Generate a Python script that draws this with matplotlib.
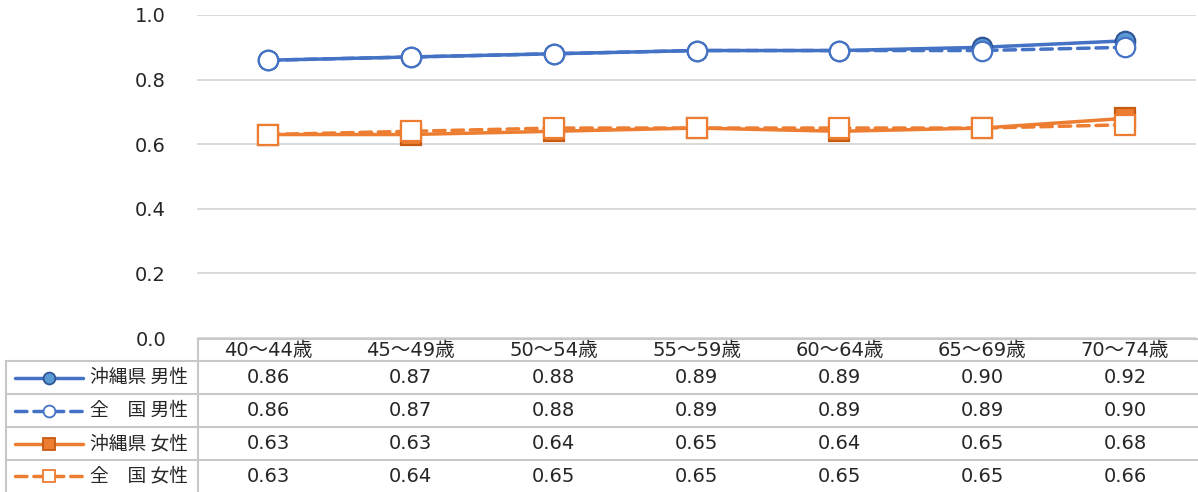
import matplotlib
matplotlib.use("Agg")
import matplotlib.pyplot as plt
from matplotlib.lines import Line2D

plt.rcParams['font.family'] = ['DejaVu Sans', 'Noto Sans CJK JP']

categories = ["40～44歳", "45～49歳", "50～54歳", "55～59歳", "60～64歳", "65～69歳", "70～74歳"]
okinawa_male = [0.86, 0.87, 0.88, 0.89, 0.89, 0.90, 0.92]
national_male = [0.86, 0.87, 0.88, 0.89, 0.89, 0.89, 0.90]
okinawa_female = [0.63, 0.63, 0.64, 0.65, 0.64, 0.65, 0.68]
national_female = [0.63, 0.64, 0.65, 0.65, 0.65, 0.65, 0.66]
series_labels = ["沖縄県 男性", "全　国 男性", "沖縄県 女性", "全　国 女性"]
yticks = [0.0, 0.2, 0.4, 0.6, 0.8, 1.0]

BLUE = "#4472C4"
ORANGE = "#ED7D31"
styles = [
    dict(color=BLUE, ls="-", marker="o", mfc="#5B9BD5", mec="#2F5597"),
    dict(color=BLUE, ls=(0, (3.3, 2)), marker="o", mfc="white", mec=BLUE),
    dict(color=ORANGE, ls="-", marker="s", mfc=ORANGE, mec="#C55A11"),
    dict(color=ORANGE, ls=(0, (3.3, 2)), marker="s", mfc="white", mec=ORANGE),
]
series = [okinawa_male, national_male, okinawa_female, national_female]

W, H = 1198, 492
fig = plt.figure(figsize=(W / 100, H / 100), dpi=100)
TXT = "#262626"

left_px, right_px, top_px, bot_px = 196.6, 1196.4, 15, 338
ax = fig.add_axes([left_px / W, 1 - bot_px / H, (right_px - left_px) / W, (bot_px - top_px) / H])
x = list(range(len(categories)))
for vals, st in zip(series, styles):
    ax.plot(x, vals, color=st["color"], ls=st["ls"], lw=2.5, marker=st["marker"],
            ms=14, mfc=st["mfc"], mec=st["mec"], mew=1.6, solid_capstyle="round",
            dash_capstyle="round")
ax.set_xlim(-0.5, len(categories) - 0.5)
ax.set_ylim(0, 1.0)
ax.set_yticks(yticks)
ax.set_yticklabels([f"{v:.1f}" for v in yticks], fontsize=14, color=TXT)
ax.tick_params(axis="y", length=0, pad=22)
ax.set_xticks([])
ax.grid(axis="y", color="#D9D9D9", lw=1.4)
ax.set_axisbelow(True)
for s in ax.spines.values():
    s.set_visible(False)
ax.patch.set_alpha(0)

# Table area
tax = fig.add_axes([0, 0, 1, 1])
tax.set_xlim(0, W)
tax.set_ylim(H, 0)
tax.axis("off")
tax.patch.set_alpha(0)
gc = "#C8C8C8"
row_y = [339, 361, 394, 427, 460, 492]
tax.plot([198, W], [339, 339], color=gc, lw=1.5)
for y in row_y[1:-1]:
    tax.plot([6, W], [y, y], color=gc, lw=1.5)
tax.plot([198, 198], [339, 492], color=gc, lw=1.5)
tax.plot([6, 6], [361, 492], color=gc, lw=1.5)

col_w = (right_px - left_px) / len(categories)
for i, c in enumerate(categories):
    cx = left_px + col_w * (i + 0.5)
    tax.text(cx, 351, c, ha="center", va="center", fontsize=14, color=TXT)
for r, (vals, lab, st) in enumerate(zip(series, series_labels, styles)):
    cy = (row_y[r + 1] + row_y[r + 2]) / 2
    for i, v in enumerate(vals):
        cx = left_px + col_w * (i + 0.5)
        tax.text(cx, cy, f"{v:.2f}", ha="center", va="center", fontsize=14, color=TXT)
    tax.add_line(Line2D([15, 83], [cy, cy], color=st["color"], ls=st["ls"], lw=2.5,
                        dash_capstyle="round", solid_capstyle="round"))
    tax.add_line(Line2D([49], [cy], marker=st["marker"], ms=8.5, mfc=st["mfc"],
                        mec=st["mec"], mew=1.3, ls="none"))
    tax.text(90, cy, lab, ha="left", va="center", fontsize=13.5, color=TXT,
             family=['Noto Sans CJK JP', 'DejaVu Sans'])

fig.savefig("out.png", dpi=100)
